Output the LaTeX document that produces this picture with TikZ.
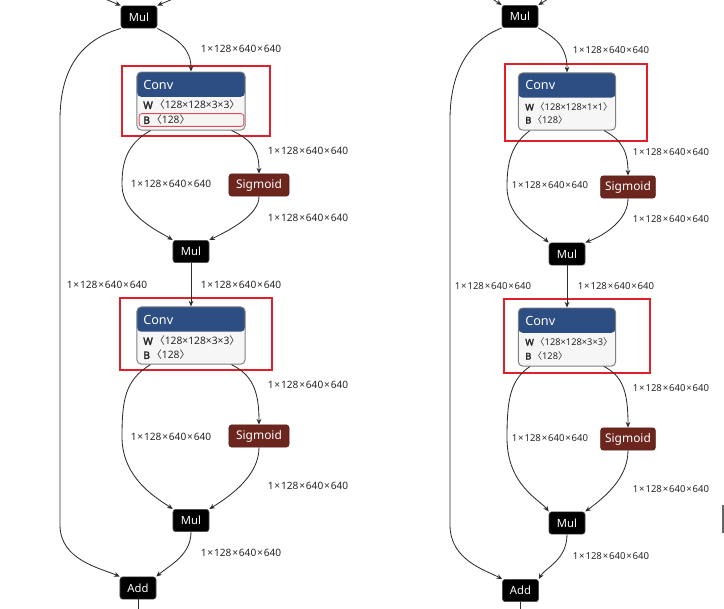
\documentclass[tikz,border=0pt]{standalone}
\usepackage{fontspec}
\setmainfont{Noto Sans}[AutoFakeBold=2.5]
\newfontfamily\cjk{Noto Sans CJK SC}
\usetikzlibrary{arrows.meta}
\definecolor{convblue}{RGB}{45,78,130}
\definecolor{convbody}{RGB}{246,246,246}
\definecolor{sigred}{RGB}{108,38,30}
\definecolor{markred}{RGB}{226,30,42}
\definecolor{edgegray}{RGB}{45,45,45}
\newcommand{\featdim}{1\kern0.6pt×\kern0.6pt128\kern0.6pt×\kern0.6pt640\kern0.6pt×\kern0.6pt640}
\newcommand{\wdim}[1]{\textbf{W}\,{\cjk 〈}#1{\cjk 〉}}
\newcommand{\bdim}[1]{\textbf{B}\,{\cjk 〈}#1{\cjk 〉}}
\tikzset{
  mulbox/.style={
    rectangle,
    rounded corners=2pt,
    fill=black,
    draw=black!70,
    text=white,
    minimum width=0.9cm,
    minimum height=0.56cm,
    inner sep=0pt,
    font=\fontsize{8}{9}\selectfont
  },
  sigbox/.style={
    rectangle,
    rounded corners=2pt,
    fill=sigred,
    draw=sigred!80!black,
    text=white,
    minimum width=1.5cm,
    minimum height=0.56cm,
    inner sep=0pt,
    font=\fontsize{8.5}{9}\selectfont
  },
  convbox/.style={
    rectangle,
    rounded corners=3pt,
    fill=convbody,
    draw=black!50,
    line width=0.7pt,
    path picture={\fill[convblue] (path picture bounding box.north west)
      rectangle ([yshift=-0.62cm]path picture bounding box.north east);}
  },
  convhead/.style={anchor=west, inner sep=0pt, text=white, font=\fontsize{9}{10}\selectfont},
  convline/.style={anchor=west, inner sep=0pt, text=black!85, font=\fontsize{7.3}{8}\selectfont},
  dimlbl/.style={inner sep=1pt, text=black!85, font=\fontsize{7.2}{8}\selectfont},
  bmark/.style={rectangle, rounded corners=2pt, draw=markred!80, line width=0.6pt,
    minimum width=2.62cm, minimum height=0.32cm},
  redframe/.style={draw=markred, line width=2pt},
  flow/.style={-{Stealth[length=4pt,width=3.4pt]}, line width=0.6pt, edgegray}
}
\begin{document}
\begin{tikzpicture}[x=0.025cm,y=-0.025cm]
\useasboundingbox (0,0) rectangle (724,608);
\clip (0,0) rectangle (724,608);

% left column
\node[mulbox] (mulA) at (139,17) {Mul};
\node[convbox, minimum width=2.7cm, minimum height=1.45cm] (convA) at (191,101) {};
\node[convhead] (convAt) at (143,85) {Conv};
\node[convline] (convAw) at (143,105) {\wdim{128×128×3×3}};
\node[convline] (convAb) at (143,120) {\bdim{128}};
\node[bmark] (convAm) at (191.5,120) {};
\node[sigbox] (sigA) at (259,185) {Sigmoid};
\node[mulbox] (mulB) at (191,251.5) {Mul};
\node[convbox, minimum width=2.7cm, minimum height=1.43cm] (convB) at (191,335.5) {};
\node[convhead] (convBt) at (143,320) {Conv};
\node[convline] (convBw) at (143,341) {\wdim{128×128×3×3}};
\node[convline] (convBb) at (143,355) {\bdim{128}};
\node[sigbox] (sigB) at (259,436) {Sigmoid};
\node[mulbox] (mulC) at (191,520.5) {Mul};
\node[mulbox] (addA) at (138,588) {Add};
\coordinate (inA1) at (98,-4);
\coordinate (inA2) at (180,-4);
\coordinate (outA) at (138,612);

\draw[redframe] (122,66) rectangle (270,136);
\draw[redframe] (120,298) rectangle (272,370);

\draw[flow] (inA1) -- (mulA.north west);
\draw[flow] (inA2) -- (mulA.north east);
\draw[flow] (mulA.south east) .. controls (180,40) and (191,50) .. (convA.north);
\draw[flow] (mulA.south west) .. controls (80,40) and (60,70) .. (60,120) -- (60,525)
  .. controls (60,560) and (100,568) .. (addA.north west);
\draw[flow] ([xshift=0.35cm]convA.south west) .. controls (125,145) and (122,165) .. (122,185)
  .. controls (122,215) and (160,232) .. (mulB.north west);
\draw[flow] ([xshift=-0.35cm]convA.south east) .. controls (252,140) and (259,150) .. (sigA.north);
\draw[flow] (sigA.south) .. controls (259,215) and (230,230) .. (mulB.north east);
\draw[flow] (mulB.south) -- (convB.north);
\draw[flow] ([xshift=0.35cm]convB.south west) .. controls (125,380) and (122,400) .. (122,437)
  .. controls (122,480) and (160,500) .. (mulC.north west);
\draw[flow] ([xshift=-0.35cm]convB.south east) .. controls (252,375) and (259,390) .. (sigB.north);
\draw[flow] (sigB.south) .. controls (259,475) and (232,495) .. (mulC.north east);
\draw[flow] (mulC.south) .. controls (191,555) and (170,565) .. (addA.north east);
\draw[flow, -] (addA.south) -- (outA);

\node[dimlbl] (lA1) at (241,49) {\featdim};
\node[dimlbl] (lA2) at (308,151) {\featdim};
\node[dimlbl] (lA3) at (171,184) {\featdim};
\node[dimlbl] (lA4) at (308,218) {\featdim};
\node[dimlbl] (lA5) at (107,285) {\featdim};
\node[dimlbl] (lA6) at (241,285) {\featdim};
\node[dimlbl] (lA7) at (308,385) {\featdim};
\node[dimlbl] (lA8) at (171,437) {\featdim};
\node[dimlbl] (lA9) at (308,486) {\featdim};
\node[dimlbl] (lA10) at (241,553) {\featdim};

% right column
\tikzset{convline/.append style={font=\fontsize{6.6}{7.5}\selectfont},
  dimlbl/.append style={font=\fontsize{6.8}{7.5}\selectfont}}
\node[mulbox] (mulD) at (520,16.5) {Mul};
\node[convbox, minimum width=2.43cm, minimum height=1.43cm] (convC) at (567,101.5) {};
\node[convhead] (convCt) at (525,85) {Conv};
\node[convline] (convCw) at (525,107) {\wdim{128×128×1×1}};
\node[convline] (convCb) at (525,120) {\bdim{128}};
\node[sigbox, minimum width=1.37cm] (sigC) at (628,187) {Sigmoid};
\node[mulbox] (mulE) at (567,254) {Mul};
\node[convbox, minimum width=2.43cm, minimum height=1.45cm] (convD) at (567,337) {};
\node[convhead] (convDt) at (525,321) {Conv};
\node[convline] (convDw) at (525,342) {\wdim{128×128×3×3}};
\node[convline] (convDb) at (525,356) {\bdim{128}};
\node[sigbox, minimum width=1.37cm] (sigD) at (628,439) {Sigmoid};
\node[mulbox] (mulF) at (567,523) {Mul};
\node[mulbox] (addB) at (520.5,590.5) {Add};
\coordinate (inB1) at (488,-4);
\coordinate (inB2) at (553,-4);
\coordinate (outB) at (520.5,612);

\draw[redframe] (505,64) rectangle (647,141);
\draw[redframe] (504,299) rectangle (650,373);

\draw[flow] (inB1) -- (mulD.north west);
\draw[flow] (inB2) -- (mulD.north east);
\draw[flow] (mulD.south east) .. controls (560,40) and (567,50) .. (convC.north);
\draw[flow] (mulD.south west) .. controls (470,40) and (450,70) .. (450,120) -- (450,525)
  .. controls (450,560) and (485,570) .. (addB.north west);
\draw[flow] ([xshift=0.3cm]convC.south west) .. controls (510,145) and (507,165) .. (507,187)
  .. controls (507,220) and (540,235) .. (mulE.north west);
\draw[flow] ([xshift=-0.3cm]convC.south east) .. controls (622,140) and (628,152) .. (sigC.north);
\draw[flow] (sigC.south) .. controls (628,220) and (605,235) .. (mulE.north east);
\draw[flow] (mulE.south) -- (convD.north);
\draw[flow] ([xshift=0.3cm]convD.south west) .. controls (510,380) and (507,400) .. (507,438)
  .. controls (507,485) and (540,500) .. (mulF.north west);
\draw[flow] ([xshift=-0.3cm]convD.south east) .. controls (622,376) and (628,390) .. (sigD.north);
\draw[flow] (sigD.south) .. controls (628,478) and (605,497) .. (mulF.north east);
\draw[flow] (mulF.south) .. controls (567,560) and (545,568) .. (addB.north east);
\draw[flow, -] (addB.south) -- (outB);

\node[dimlbl] (lB1) at (611,50) {\featdim};
\node[dimlbl] (lB2) at (671,152) {\featdim};
\node[dimlbl] (lB3) at (550,185) {\featdim};
\node[dimlbl] (lB4) at (671,219) {\featdim};
\node[dimlbl] (lB5) at (493,286) {\featdim};
\node[dimlbl] (lB6) at (616,286) {\featdim};
\node[dimlbl] (lB7) at (671,388) {\featdim};
\node[dimlbl] (lB8) at (550,438) {\featdim};
\node[dimlbl] (lB9) at (671,489) {\featdim};
\node[dimlbl] (lB10) at (611,556) {\featdim};

% edge fragment at the far right
\draw[black!60, line width=1.2pt] (723,505) -- (723,533);
\end{tikzpicture}
\end{document}
